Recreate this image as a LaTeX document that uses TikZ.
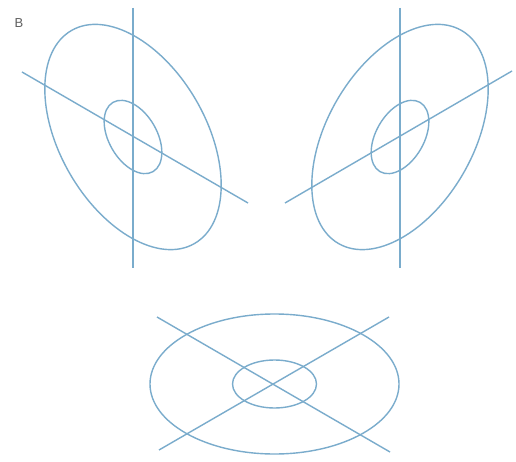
\documentclass[tikz,border=0pt]{standalone}
\usepackage{fontspec}
\setmainfont{Liberation Sans}
\definecolor{penblue}{RGB}{122,172,204}
\definecolor{labelgray}{RGB}{95,95,95}
\begin{document}
\begin{tikzpicture}[x=1bp,y=1bp,
  guide/.style={draw=penblue,line width=1.4bp},
  lbl/.style={font=\fontsize{13bp}{15bp}\selectfont,text=labelgray,inner sep=0pt}]
\useasboundingbox[fill=white] (0,0) rectangle (516,-462);
\node[lbl] (label) at (19,-23) {B};
% left figure
\coordinate (cl) at (133,-137);
\begin{scope}[shift={(cl)},rotate=-60]
  \draw[guide] (0,0) ellipse [x radius=123bp, y radius=73bp];
  \draw[guide] (0,0) ellipse [x radius=40bp, y radius=24bp];
\end{scope}
\draw[guide] (133,-8) -- (133,-268);
\draw[guide] (22,-72) -- (248,-203);
% right figure
\coordinate (cr) at (400,-137);
\begin{scope}[shift={(cr)},rotate=60]
  \draw[guide] (0,0) ellipse [x radius=123bp, y radius=73bp];
  \draw[guide] (0,0) ellipse [x radius=40bp, y radius=24bp];
\end{scope}
\draw[guide] (400,-8) -- (400,-268);
\draw[guide] (285,-203) -- (512,-71);
% bottom figure
\coordinate (cb) at (274.5,-384);
\draw[guide] (cb) ellipse [x radius=124.5bp, y radius=70bp];
\draw[guide] (cb) ellipse [x radius=42bp, y radius=24bp];
\draw[guide] (157,-317) -- (390,-452);
\draw[guide] (159,-450) -- (389,-317);
\end{tikzpicture}
\end{document}
